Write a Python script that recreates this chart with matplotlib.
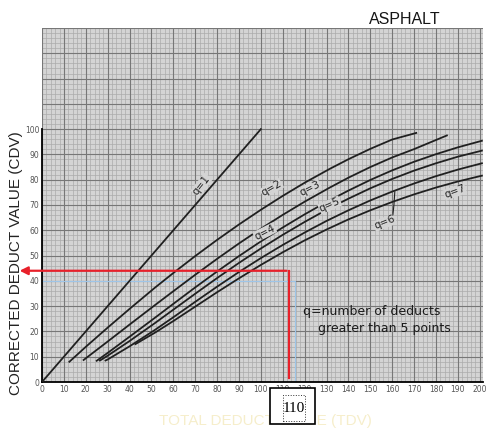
import matplotlib.pyplot as plt
from matplotlib.patches import Rectangle
import numpy as np

# curves: total deduct value (x) -> corrected deduct value (y)
q1_x = [0, 100]
q1_y = [0, 100]
q2_x = [12.5, 20, 30, 40, 51.6, 60, 70, 80, 90, 100, 110, 120, 131.5, 140, 150, 160, 171]
q2_y = [8, 13.9, 21.5, 28.9, 37.3, 43.1, 49.8, 56.2, 62.3, 68.1, 73.6, 78.8, 84.3, 88.1, 92.2, 95.9, 98.5]
q3_x = [19, 30, 40, 51.6, 60, 70, 80, 90, 100, 110, 120, 131.5, 140, 150, 160, 170, 185]
q3_y = [8.7, 16.0, 22.7, 30.4, 35.9, 42.4, 48.7, 54.8, 60.6, 66.1, 71.3, 76.9, 80.8, 85.0, 88.8, 92.1, 97.5]
q4_x = [25, 30, 40, 51.6, 60, 70, 80, 90, 100, 110, 120, 130, 140, 150, 160, 170, 180, 190, 201]
q4_y = [8.4, 11.5, 17.9, 25.4, 30.9, 37.4, 43.7, 49.8, 55.6, 61.1, 66.3, 71.2, 75.7, 79.9, 83.7,
        87.1, 90.1, 92.8, 95.4]
q5_x = [26.5, 30, 40, 51.6, 60, 70, 80, 90, 100, 110, 120, 130, 140, 150, 160, 170, 180, 190, 201]
q5_y = [8.5, 10.4, 16.2, 23.3, 28.6, 34.9, 41.1, 47.1, 52.8, 58.2, 63.3, 68.1, 72.5, 76.6, 80.3,
        83.6, 86.5, 89.1, 91.5]
q6_x = [29, 30, 40, 51.6, 60, 70, 80, 90, 100, 110, 120, 130, 140, 150, 160, 170, 180, 190, 201]
q6_y = [8.5, 8.9, 14.1, 20.6, 25.6, 31.7, 37.7, 43.5, 49.0, 54.2, 59.1, 63.7, 67.9, 71.8, 75.3,
        78.5, 81.4, 84.0, 86.5]
q7_x = [42.7, 51.6, 60, 70, 80, 90, 100, 110, 120, 130, 140, 150, 160, 170, 180, 190, 201]
q7_y = [15, 19.5, 24.1, 29.8, 35.5, 41.0, 46.3, 51.3, 56.0, 60.3, 64.3, 67.9, 71.2, 74.2, 76.9,
        79.3, 81.6]

curves = [(q1_x, q1_y), (q2_x, q2_y), (q3_x, q3_y), (q4_x, q4_y),
          (q5_x, q5_y), (q6_x, q6_y), (q7_x, q7_y)]

# curve labels: text, x, y, rotation
labels = [("q=1", 72.9, 77.9, 52), ("q=2", 104.9, 76.6, 30), ("q=3", 122.4, 76.5, 27),
          ("q=4", 101.8, 59.2, 27), ("q=5", 131.5, 70.0, 24), ("q=6", 156.6, 63, 22),
          ("q=7", 188.6, 75.2, 20)]

tdv_read = 113
cdv_read = 44

xticks = list(range(0, 201, 10))
yticks = list(range(0, 101, 10))

paper = "#d4d4d4"

fig = plt.figure(figsize=(4.86, 4.30), dpi=100)
ax = fig.add_axes([42 / 486, (430 - 382) / 430, 441 / 486, 354 / 430])
ax.set_facecolor(paper)
ax.set_xlim(0, 201.5)
ax.set_ylim(0, 140)

# graph paper
for v in np.arange(0, 202, 2):
    ax.axvline(v, color="#ababab", lw=0.5, zorder=0)
for v in np.arange(0, 141, 2):
    ax.axhline(v, color="#ababab", lw=0.5, zorder=0)
for v in range(0, 202, 10):
    ax.axvline(v, color="#777777", lw=0.8, zorder=0)
for v in range(0, 141, 10):
    ax.axhline(v, color="#777777", lw=0.8, zorder=0)

for s in ["top", "right"]:
    ax.spines[s].set_visible(False)
ax.spines["left"].set_bounds(0, 100)
ax.spines["left"].set_linewidth(1.3)
ax.spines["bottom"].set_linewidth(1.3)
ax.spines["bottom"].set_bounds(0, 201.5)

ax.set_xticks(xticks)
ax.set_yticks(yticks)
ax.tick_params(length=0, labelsize=5.5, labelcolor="#555555", pad=2)

for x, y in curves:
    ax.plot(x, y, color="#202020", lw=1.3, zorder=3)

for t, x, y, r in labels:
    ax.text(x, y, t, rotation=r, fontsize=7.5, color="#222222", ha="center", va="center", zorder=4,
            bbox=dict(facecolor=paper, edgecolor="none", pad=0.3))
ax.plot([161.2, 160.8, 160.3], [75.2, 70, 66.0], color="#222222", lw=0.8, zorder=4)

ax.text(150.7, 27.8, "q=number of deducts", fontsize=9, ha="center", va="center", color="#1a1a1a")
ax.text(156.6, 21.3, "greater than 5 points", fontsize=9, ha="center", va="center", color="#1a1a1a")

# faint blue guide lines
ax.plot([0, 115.5, 115.5], [40, 40, 0], color="#9ec5e8", lw=0.8, zorder=2)

# red reading lines
ax.plot([tdv_read, tdv_read], [1.5, cdv_read], color="#e8202a", lw=1.6, zorder=5)
ax.annotate("", xy=(-11.5, cdv_read), xytext=(tdv_read, cdv_read),
            arrowprops=dict(arrowstyle="-|>", color="#e8202a", lw=1.6, mutation_scale=12),
            annotation_clip=False, zorder=5)

# boxed 110 below axis
fig.patches.append(Rectangle((270 / 486, 1 - 424 / 430), 45 / 486, 36 / 430,
                             transform=fig.transFigure, facecolor="white",
                             edgecolor="black", lw=1.2, zorder=10))
fig.patches.append(Rectangle((283 / 486, 1 - 421 / 430), 22 / 486, 26 / 430,
                             transform=fig.transFigure, facecolor="none",
                             edgecolor="#333333", lw=0.7, ls=":", zorder=11))
fig.text(294 / 486, 1 - 408 / 430, "110", fontsize=11, family="Liberation Serif",
         ha="center", va="center", zorder=12)

fig.text(16 / 486, 1 - 263 / 430, "CORRECTED DEDUCT VALUE (CDV)", rotation=90,
         fontsize=11, family="Liberation Sans", color="#222222", ha="center", va="center")
fig.text(405 / 486, 1 - 20 / 430, "ASPHALT", fontsize=11.5, family="Liberation Sans",
         color="#151515", ha="center", va="center")
fig.text(265 / 486, 1 - 414 / 430, "TOTAL DEDUCT VALUE (TDV)", fontsize=11,
         family="Liberation Sans", color="#f6eecb", ha="center", va="top", zorder=1)

fig.savefig("out.png", dpi=100)
